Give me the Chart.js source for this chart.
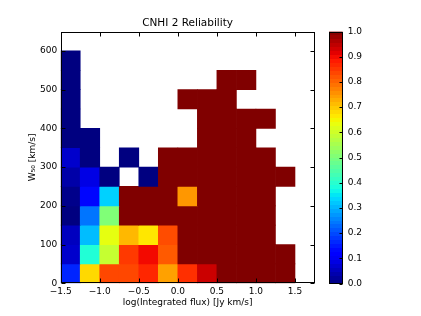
<!DOCTYPE html>
<html>
<head>
<meta charset="utf-8">
<script src="https://cdn.jsdelivr.net/npm/chart.js@4/dist/chart.umd.min.js"></script>
<style>
  html, body { margin: 0; padding: 0; background: #fff; }
  #wrap { position: relative; width: 421px; height: 316px; }
  #wrap canvas { position: absolute; left: 0; top: 0; }
</style>
</head>
<body>
<div id="wrap">
  <canvas id="grafico" width="421" height="316"></canvas>
  <canvas id="barra" width="421" height="316"></canvas>
</div>
<script>
// bin edges
const xEdges = [-1.5, -1.25, -1.0, -0.75, -0.5, -0.25, 0.0, 0.25, 0.5, 0.75, 1.0, 1.25, 1.5];
const yEdges = [0, 50, 100, 150, 200, 250, 300, 350, 400, 450, 500, 550, 600];

// reliability per cell, one row per W50 bin (bottom to top), null = empty
const row0  = [0.16, 0.68, 0.835, 0.835, 0.87, 0.74, 0.86, 0.935, 1, 1, 1, 1];
const row1  = [0.066, 0.39, 0.59, 0.85, 0.9, 0.815, 1, 1, 1, 1, 1, 1];
const row2  = [0.055, 0.31, 0.63, 0.715, 0.665, 0.83, 1, 1, 1, 1, 1, null];
const row3  = [0.0, 0.24, 0.505, 1, 1, 1, 1, 1, 1, 1, 1, null];
const row4  = [0.01, 0.13, 0.33, 1, 1, 1, 0.75, 1, 1, 1, 1, null];
const row5  = [0.035, 0.088, 0.0, null, 0.0, 1, 1, 1, 1, 1, 1, 1];
const row6  = [0.066, 0.0, null, 0.0, null, 1, 1, 1, 1, 1, 1, null];
const row7  = [0.0, 0.0, null, null, null, null, null, 1, 1, 1, null, null];
const row8  = [0.0, null, null, null, null, null, null, 1, 1, 1, 1, null];
const row9  = [0.0, null, null, null, null, null, 1, 1, 1, null, null, null];
const row10 = [0.0, null, null, null, null, null, null, null, 1, 1, null, null];
const row11 = [0.0, null, null, null, null, null, null, null, null, null, null, null];
const rows = [row0, row1, row2, row3, row4, row5, row6, row7, row8, row9, row10, row11];

const xTicks = [-1.5, -1.0, -0.5, 0.0, 0.5, 1.0, 1.5];
const yTicks = [0, 100, 200, 300, 400, 500, 600];
const cbarTicks = [0.0, 0.1, 0.2, 0.3, 0.4, 0.5, 0.6, 0.7, 0.8, 0.9, 1.0];

const fonte = { family: 'DejaVu Sans', size: 9 };

// matplotlib jet colormap
function interp(pts, v) {
    for (let i = 1; i < pts.length; i++) {
        if (v <= pts[i][0]) {
            const t = (v - pts[i - 1][0]) / (pts[i][0] - pts[i - 1][0]);
            return pts[i - 1][1] + t * (pts[i][1] - pts[i - 1][1]);
        }
    }
    return pts[pts.length - 1][1];
}
function jet(v) {
    v = Math.min(1, Math.max(0, v));
    const r = interp([[0, 0], [0.35, 0], [0.66, 1], [0.89, 1], [1, 0.5]], v);
    const g = interp([[0, 0], [0.125, 0], [0.375, 1], [0.64, 1], [0.91, 0], [1, 0]], v);
    const b = interp([[0, 0.5], [0.11, 1], [0.34, 1], [0.65, 0], [1, 0]], v);
    return `rgb(${Math.round(r * 255)}, ${Math.round(g * 255)}, ${Math.round(b * 255)})`;
}

const minus = s => s.replace('-', '\u2212');

// cells as floating bars
const cells = [];
rows.forEach((row, i) => {
    row.forEach((v, j) => {
        if (v === null) return;
        cells.push({ x: (xEdges[j] + xEdges[j + 1]) / 2, y: [yEdges[i], yEdges[i + 1]], v: v });
    });
});

// frame and inward tick marks, like matplotlib
const moldura = {
    id: 'moldura',
    afterDraw(chart) {
        const { ctx, chartArea: a, scales } = chart;
        const l = Math.round(a.left) + 0.5, r = Math.round(a.right) - 0.5;
        const t = Math.round(a.top) + 0.5, b = Math.round(a.bottom) - 0.5;
        ctx.save();
        ctx.strokeStyle = '#000';
        ctx.lineWidth = 1;
        ctx.beginPath();
        if (scales.x && scales.x.options.display !== false) {
            xTicks.forEach(v => {
                const px = Math.round(scales.x.getPixelForValue(v)) + 0.5;
                ctx.moveTo(px, b); ctx.lineTo(px, b - 4);
                ctx.moveTo(px, t); ctx.lineTo(px, t + 4);
            });
            yTicks.forEach(v => {
                const py = Math.round(scales.y.getPixelForValue(v)) + 0.5;
                ctx.moveTo(l, py); ctx.lineTo(l + 4, py);
                ctx.moveTo(r, py); ctx.lineTo(r - 4, py);
            });
        } else {
            cbarTicks.forEach(v => {
                const py = Math.round(scales.y.getPixelForValue(v)) + 0.5;
                ctx.moveTo(r, py); ctx.lineTo(r - 3, py);
            });
        }
        ctx.stroke();
        ctx.strokeRect(l, t, r - l, b - t);
        ctx.restore();
    }
};

new Chart(document.getElementById('grafico'), {
    type: 'bar',
    data: {
        datasets: [{
            data: cells,
            backgroundColor: ctx => ctx.raw ? jet(ctx.raw.v) : '#fff',
            borderWidth: 0,
            barPercentage: 1,
            categoryPercentage: 1
        }]
    },
    options: {
        responsive: false,
        animation: false,
        layout: { padding: { left: 0, right: 106.5, top: 0, bottom: 0 } },
        plugins: {
            legend: { display: false },
            tooltip: { enabled: false },
            title: {
                display: true,
                fullSize: false,
                text: 'CNHI 2 Reliability',
                color: '#000',
                font: { family: 'DejaVu Sans', size: 10.5, weight: 'normal' },
                padding: { top: 16.5, bottom: 2.4 }
            }
        },
        scales: {
            x: {
                type: 'linear',
                min: -1.5,
                max: 1.75,
                offset: false,
                grid: { display: false, drawTicks: false, offset: false },
                border: { display: false },
                afterBuildTicks: s => { s.ticks = xTicks.map(v => ({ value: v })); },
                afterFit: s => { s.height = 32.7; },
                ticks: {
                    color: '#000',
                    font: fonte,
                    padding: 2.5,
                    maxRotation: 0,
                    autoSkip: false,
                    callback: v => minus(v.toFixed(1))
                },
                title: {
                    display: true,
                    text: 'log(Integrated flux) [Jy km/s]',
                    color: '#000',
                    font: fonte,
                    padding: { top: 0, bottom: 7.5 }
                }
            },
            y: {
                type: 'linear',
                min: 0,
                max: 650,
                grid: { display: false, drawTicks: false },
                border: { display: false },
                afterBuildTicks: s => { s.ticks = yTicks.map(v => ({ value: v })); },
                afterFit: s => { s.width = 60.7; },
                ticks: {
                    color: '#000',
                    font: fonte,
                    padding: 3.4,
                    autoSkip: false
                },
                title: {
                    display: true,
                    text: 'W\u2085\u2080 [km/s]',
                    color: '#000',
                    font: fonte,
                    padding: { top: 27.5, bottom: 0 }
                }
            }
        }
    },
    plugins: [moldura]
});

// colour bar
function gradiente(chart) {
    const a = chart.chartArea;
    if (!a) return jet(0.5);
    const g = chart.ctx.createLinearGradient(0, a.bottom, 0, a.top);
    const n = 64;
    for (let k = 0; k < n; k++) {
        const c = jet((k + 0.5) / n);
        g.addColorStop(k / n, c);
        g.addColorStop((k + 1) / n, c);
    }
    return g;
}

new Chart(document.getElementById('barra'), {
    type: 'bar',
    data: {
        labels: [''],
        datasets: [{
            data: [[0, 1]],
            backgroundColor: ctx => gradiente(ctx.chart),
            borderWidth: 0,
            barPercentage: 1,
            categoryPercentage: 1
        }]
    },
    options: {
        responsive: false,
        animation: false,
        layout: { padding: { left: 329, right: 0, top: 31.5, bottom: 32.5 } },
        plugins: { legend: { display: false }, tooltip: { enabled: false } },
        scales: {
            x: { display: false },
            y: {
                position: 'right',
                min: 0,
                max: 1,
                grid: { display: false, drawTicks: false },
                border: { display: false },
                afterBuildTicks: s => { s.ticks = cbarTicks.map(v => ({ value: v })); },
                afterFit: s => { s.width = 78.3; },
                ticks: {
                    color: '#000',
                    font: fonte,
                    padding: 5,
                    autoSkip: false,
                    callback: v => v.toFixed(1)
                }
            }
        }
    },
    plugins: [moldura]
});
</script>
</body>
</html>
